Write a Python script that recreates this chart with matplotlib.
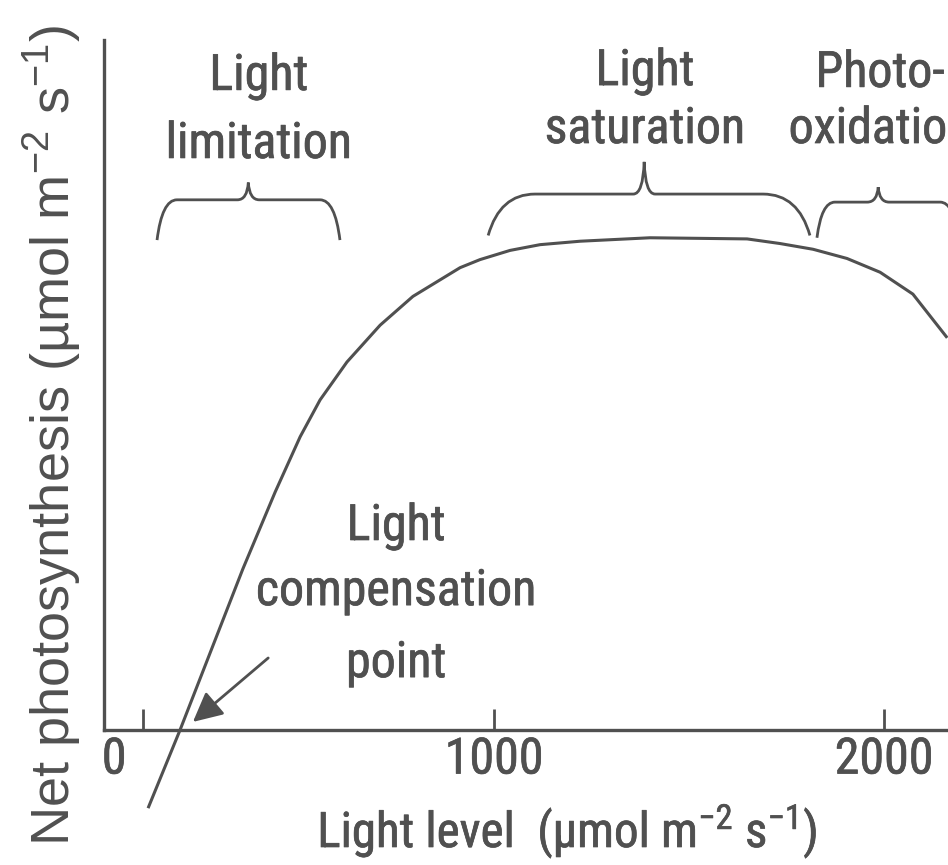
import numpy as np
import matplotlib
matplotlib.use('Agg')
import matplotlib.pyplot as plt
import matplotlib.patheffects as pe
from matplotlib import font_manager
from matplotlib.path import Path
from matplotlib.patches import PathPatch

# light response curve
light = [113, 195, 356, 439, 503, 554, 623, 708, 792, 913, 964, 1041, 1118,
         1221, 1400, 1649, 1733, 1818, 1905, 1990, 2074, 2162]
net = [-3.4, 0.0, 7.0, 10.35, 12.75, 14.35, 16.0, 17.6, 18.85, 20.1, 20.45,
       20.85, 21.1, 21.25, 21.4, 21.35, 21.15, 20.9, 20.5, 19.9, 18.95, 17.05]

tick_marks = [100, 1000, 2000]
tick_label_pos = [26, 1000, 2000]
tick_labels = ['0', '1000', '2000']

# braces: start, centre, end, bottom, flat level, tip, end-curve width
braces = [
    (136, 370, 605, 21.3, 23.05, 23.8, 51),
    (985, 1385, 1810, 21.5, 23.3, 24.7, 120),
    (1828, 1985, 2190, 21.4, 22.95, 23.6, 46),
]

gray = '#505050'

# the original uses a narrow Arial; use a condensed face if one is there
installed = {f.name for f in font_manager.fontManager.ttflist}
narrow, fs = ['Liberation Sans'], 31
for name in ['Liberation Sans Narrow', 'Arial Narrow', 'Roboto Condensed',
             'DejaVu Sans Condensed', 'Open Sans Condensed']:
    if name in installed:
        narrow, fs = [name, 'Liberation Sans'], 36
        break
thick = [pe.withStroke(linewidth=0.5, foreground=gray)]

plt.rcParams['mathtext.default'] = 'regular'

fig = plt.figure(figsize=(9.48, 8.65), dpi=100)
ax = fig.add_axes([0.1097, 0.1561, 0.8903, 0.7977])
ax.set_xlim(0, 2164)
ax.set_ylim(0, 30)

ax.plot(light, net, color=gray, lw=2.2, clip_on=False, solid_capstyle='butt')

for side in ['top', 'right']:
    ax.spines[side].set_visible(False)
for side in ['left', 'bottom']:
    ax.spines[side].set_color(gray)
    ax.spines[side].set_linewidth(2.4)

ax.set_yticks([])
ax.set_xticks(tick_label_pos)
ax.set_xticklabels(tick_labels, family=narrow, fontsize=fs, color=gray,
                   path_effects=thick)
ax.tick_params(axis='x', which='major', length=0, pad=4)
ax.set_xticks(tick_marks, minor=True)
ax.xaxis.remove_overlapping_locs = False
ax.tick_params(axis='x', which='minor', direction='in', length=15,
               width=2.0, color=gray)

# braces above the regions
for x0, xc, x1, yb, yf, yt, dx in braces:
    w = 28
    verts = [(x0, yb), (x0 + dx * 0.25, yf), (x0 + dx, yf),
             (xc - w, yf),
             (xc - w * 0.1, yf), (xc, yt),
             (xc + w * 0.1, yf), (xc + w, yf),
             (x1 - dx, yf),
             (x1 - dx * 0.25, yf), (x1, yb)]
    codes = [Path.MOVETO, Path.CURVE3, Path.CURVE3,
             Path.LINETO,
             Path.CURVE3, Path.CURVE3,
             Path.CURVE3, Path.CURVE3,
             Path.LINETO,
             Path.CURVE3, Path.CURVE3]
    ax.add_patch(PathPatch(Path(verts, codes), fill=False, ec=gray, lw=2.0,
                           clip_on=True, capstyle='butt'))

def label(x, y, s):
    ax.text(x, y, s, ha='center', va='baseline', family=narrow,
            fontsize=fs, color=gray, clip_on=False, path_effects=thick)

label(397, 27.83, 'Light')
label(397, 24.87, 'limitation')
label(1387, 28.04, 'Light')
label(1387, 25.52, 'saturation')
label(1990, 27.96, 'Photo-')
label(1990, 25.52, 'oxidation')
label(749, 8.26, 'Light')
label(749, 5.43, 'compensation')
label(749, 2.30, 'point')

ax.annotate('', xy=(228, 0.35), xytext=(421, 3.13),
            arrowprops=dict(arrowstyle='-|>,head_length=0.6,head_width=0.3',
                            mutation_scale=30, color=gray, lw=2.0,
                            shrinkA=0, shrinkB=0))

xl = ax.set_xlabel('Light level  (µmol m$^{-2}$ s$^{-1}$)', family=narrow,
                   fontsize=fs * 0.98, color=gray, path_effects=thick)
xl.set_va('baseline')
ax.xaxis.set_label_coords(0.549, -0.170)

yl = ax.set_ylabel('Net photosynthesis (µmol m$^{-2}$ s$^{-1}$)',
                   family='Liberation Sans', fontsize=39, color=gray)
yl.set_va('baseline')
ax.yaxis.set_label_coords(-0.0403, 0.426)

fig.savefig('out.png', dpi=100)
